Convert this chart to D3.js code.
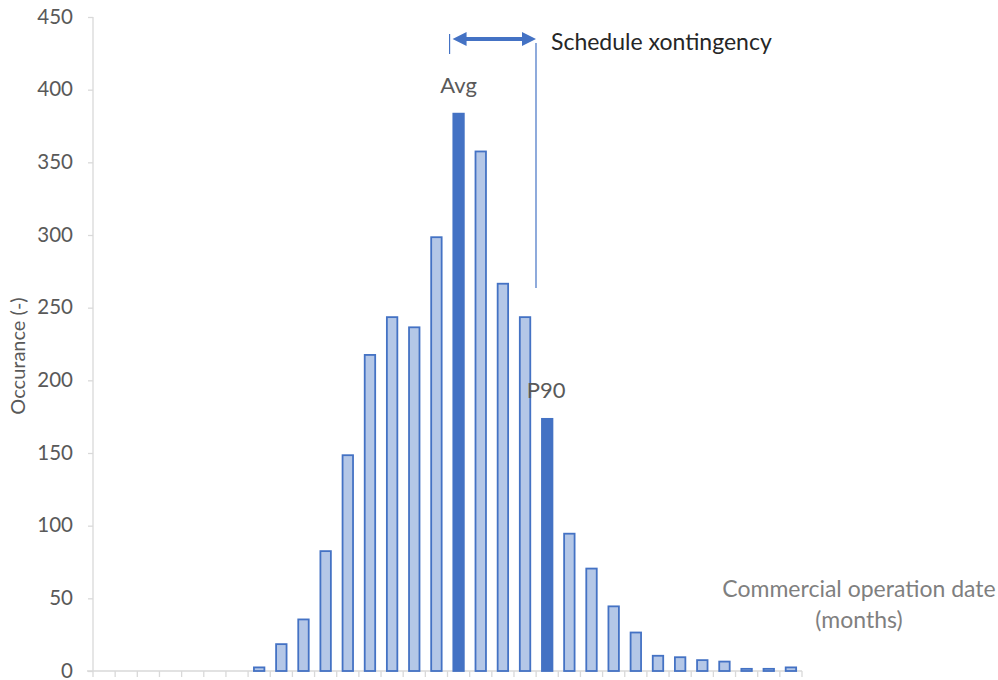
<!DOCTYPE html>
<html><head><meta charset="utf-8">
<script src="https://cdn.jsdelivr.net/npm/d3@7"></script>
<style>body{margin:0;background:#fff}svg{display:block}</style>
</head><body>
<svg id="c" width="998" height="680"></svg>
<script>
const months = [1,2,3,4,5,6,7,8,9,10,11,12,13,14,15,16,17,18,19,20,21,22,23,24,25,26,27,28,29,30,31,32];
const occurrences = [0,0,0,0,0,0,0,3,19,36,83,149,218,244,237,299,384,358,267,244,174,95,71,45,27,11,10,8,7,2,2,3];
const highlighted = {17: "Avg", 21: "P90"};
const yTicks = [0,50,100,150,200,250,300,350,400,450];

const svg = d3.select("#c");
const font = "Lato, 'Liberation Sans', sans-serif";
const x = d3.scaleBand().domain(months).range([93, 802]).paddingInner(0.46).paddingOuter(0.23);
const y = d3.scaleLinear().domain([0, 450]).range([671, 17]);

// y axis
const ya = svg.append("g").attr("transform", "translate(93,0)")
  .call(d3.axisLeft(y).tickValues(yTicks).tickSize(5).tickPadding(15));
ya.select(".domain").attr("stroke", "#d9d9d9").attr("stroke-width", 1.3).attr("d", `M0,${y(450)}V${y(0)}`);
ya.selectAll(".tick line").attr("stroke", "#d9d9d9").attr("stroke-width", 1.3);
ya.selectAll(".tick text").attr("fill", "#595959").attr("dy", "0.3em")
  .style("font-family", font).style("font-size", "20.5px");

// x axis with ticks at category boundaries
const xa = svg.append("g").attr("transform", `translate(0,${y(0)})`);
xa.append("line").attr("x1", 87).attr("x2", 802).attr("y1", 0).attr("y2", 0)
  .attr("stroke", "#d9d9d9").attr("stroke-width", 1.3);
const bounds = months.map(m => x(m) - (x.step() - x.bandwidth()) / 2).concat([802]);
xa.selectAll("line.t").data(bounds).enter().append("line").attr("class", "t")
  .attr("x1", d => d).attr("x2", d => d).attr("y1", 0).attr("y2", 6)
  .attr("stroke", "#d9d9d9").attr("stroke-width", 1.3);

// bars
const data = months.map((m, i) => ({m, v: occurrences[i]})).filter(d => d.v > 0);
svg.append("g").selectAll("rect").data(data).enter().append("rect")
  .attr("x", d => x(d.m) + 0.75)
  .attr("width", x.bandwidth() - 1.5)
  .attr("y", d => y(d.v) + 0.75)
  .attr("height", d => Math.max(0, y(0) - y(d.v) - 0.75))
  .attr("fill", d => highlighted[d.m] ? "#4472C4" : "#B4C7E7")
  .attr("stroke", "#4472C4").attr("stroke-width", 1.8);

// labels Avg / P90
Object.entries(highlighted).forEach(([m, lab]) => {
  const v = occurrences[months.indexOf(+m)];
  svg.append("text").attr("x", x(+m) + x.bandwidth() / 2 + (lab === "P90" ? -1 : 0)).attr("y", y(v) - 20)
    .attr("text-anchor", "middle").attr("fill", "#595959")
    .style("font-family", font).style("font-size", "22px").text(lab);
});

// y axis title
svg.append("text").attr("transform", "translate(25,356) rotate(-90)")
  .attr("text-anchor", "middle").attr("fill", "#595959")
  .style("font-family", font).style("font-size", "20px").text("Occurance (-)");

// x axis title
svg.append("text").attr("x", 859).attr("y", 597).attr("text-anchor", "middle").attr("fill", "#7f7f7f")
  .style("font-family", font).style("font-size", "23px").text("Commercial operation date");
svg.append("text").attr("x", 859).attr("y", 628).attr("text-anchor", "middle").attr("fill", "#7f7f7f")
  .style("font-family", font).style("font-size", "23px").text("(months)");

// schedule contingency annotation
const xAvg = x(17) + x.bandwidth() / 2;
const xP = 536;
const ay = 39;
svg.append("line").attr("x1", xAvg - 9).attr("x2", xAvg - 9).attr("y1", 34).attr("y2", 54)
  .attr("stroke", "#4472C4").attr("stroke-width", 1.2);
svg.append("line").attr("x1", xP).attr("x2", xP).attr("y1", 43).attr("y2", 288)
  .attr("stroke", "#4472C4").attr("stroke-width", 1.2);
const x0 = xAvg - 6, x1 = xP;
svg.append("line").attr("x1", x0 + 12).attr("x2", x1 - 12).attr("y1", ay).attr("y2", ay)
  .attr("stroke", "#4472C4").attr("stroke-width", 4);
svg.append("path").attr("d", `M${x0},${ay}L${x0 + 14},${ay - 7}L${x0 + 14},${ay + 7}Z`).attr("fill", "#4472C4");
svg.append("path").attr("d", `M${x1},${ay}L${x1 - 14},${ay - 7}L${x1 - 14},${ay + 7}Z`).attr("fill", "#4472C4");
svg.append("text").attr("x", 551).attr("y", 50).attr("fill", "#262626")
  .style("font-family", font).style("font-size", "23px").text("Schedule xontingency");
</script>
</body></html>
